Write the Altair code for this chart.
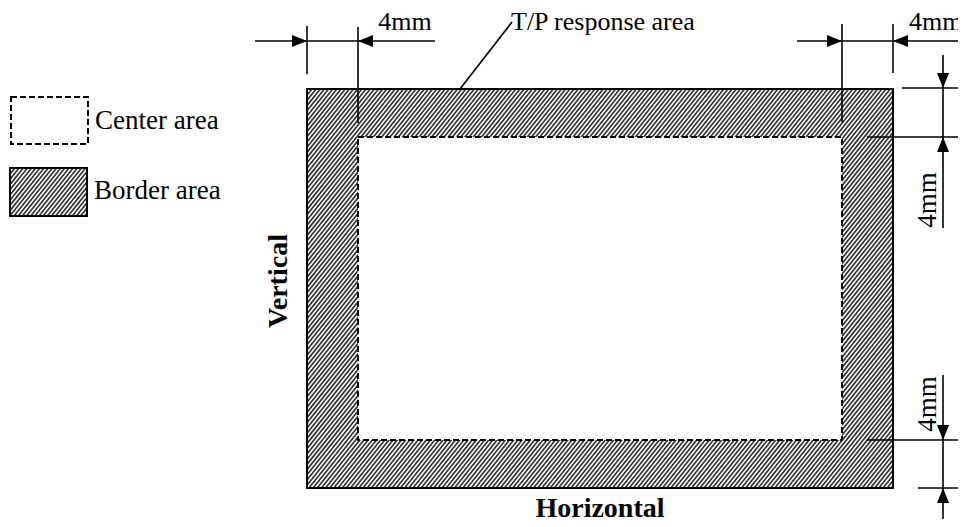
import altair as alt
import pandas as pd
import numpy as np

# ---- geometry of the diagram (image pixel coordinates) ----
rect_names = ["outer", "inner", "legend_center", "legend_border"]
rect_x1 = [307, 358, 11, 10]
rect_y1 = [89, 137, 97, 168]
rect_x2 = [893, 842, 88, 87]
rect_y2 = [488, 440, 144, 216]

# dimension / leader line segments
seg_x1 = [255, 307, 358, 797, 842, 893, 943, 902, 867, 943, 867, 918, 460]
seg_y1 = [41, 26, 27, 41, 24, 24, 55, 88, 137, 375, 440, 488, 89]
seg_x2 = [435, 307, 358, 966, 842, 893, 943, 966, 966, 943, 966, 966, 512]
seg_y2 = [41, 74, 123, 41, 122, 73, 228, 88, 137, 522, 440, 488, 22]

# arrow heads: tip position and direction (deg, clockwise from +x)
arr_x = [307, 358, 842, 893, 943, 943, 943, 943]
arr_y = [41, 41, 41, 41, 88, 137, 440, 488]
arr_dir = [0, 180, 0, 180, 90, 270, 90, 270]

# labels
lbl_top_text = ["T/P response area", "4mm"]
lbl_top_x = [511, 909]
lbl_top_y = [22, 22]
lbl_top_center_text = ["4mm"]
lbl_top_center_x = [405]
lbl_top_center_y = [22]
lbl_left_text = ["Center area", "Border area"]
lbl_left_x = [95, 94]
lbl_left_y = [121, 191]
lbl_mid_text = ["4mm", "4mm"]
lbl_mid_x = [928, 928]
lbl_mid_y = [200, 404]
lbl_mid_angle = [270, 270]
lbl_bold_text = ["Vertical", "Horizontal"]
lbl_bold_x = [287, 600]
lbl_bold_y = [281, 517]
lbl_bold_angle = [270, 0]

HATCH_STEP = 5.2
HATCH_K = 1.25


def hatch(x0, y0, x1, y1):
    rows = []
    cmin = y0 + HATCH_K * x0
    cmax = y1 + HATCH_K * x1
    for c in np.arange(cmin + 1, cmax, HATCH_STEP):
        xa = max(x0, (c - y1) / HATCH_K)
        xb = min(x1, (c - y0) / HATCH_K)
        if xb <= xa:
            continue
        rows.append(dict(x=xa, y=c - HATCH_K * xa, x2=xb, y2=c - HATCH_K * xb))
    return rows


rects = pd.DataFrame(dict(name=rect_names, x=rect_x1, y=rect_y1, x2=rect_x2, y2=rect_y2))
hatch_rows = []
for n, a, b, c, d in zip(rect_names, rect_x1, rect_y1, rect_x2, rect_y2):
    if n in ("outer", "legend_border"):
        hatch_rows += hatch(a, b, c, d)
hatch_df = pd.DataFrame(hatch_rows)
segs = pd.DataFrame(dict(x=seg_x1, y=seg_y1, x2=seg_x2, y2=seg_y2))
arrows = pd.DataFrame(dict(x=arr_x, y=arr_y, a=arr_dir))
t_top = pd.DataFrame(dict(t=lbl_top_text, x=lbl_top_x, y=lbl_top_y))
t_topc = pd.DataFrame(dict(t=lbl_top_center_text, x=lbl_top_center_x, y=lbl_top_center_y))
t_left = pd.DataFrame(dict(t=lbl_left_text, x=lbl_left_x, y=lbl_left_y))
t_mid = pd.DataFrame(dict(t=lbl_mid_text, x=lbl_mid_x, y=lbl_mid_y, a=lbl_mid_angle))
t_bold = pd.DataFrame(dict(t=lbl_bold_text, x=lbl_bold_x, y=lbl_bold_y, a=lbl_bold_angle))

X = alt.Scale(domain=[8, 958], nice=False, zero=False)
Y = alt.Scale(domain=[8, 519], nice=False, zero=False, reverse=True)


def xe(f="x"):
    return alt.X(f"{f}:Q", scale=X, axis=None)


def ye(f="y"):
    return alt.Y(f"{f}:Q", scale=Y, axis=None)


hatch_layer = alt.Chart(hatch_df).mark_rule(color="#333333", strokeWidth=1.7).encode(
    x=xe(), y=ye(), x2="x2:Q", y2="y2:Q")

dashed = alt.Chart(rects[rects.name.isin(["inner", "legend_center"])]).mark_rect(
    fill="white", stroke="black", strokeWidth=2, strokeDash=[6, 3]).encode(
    x=xe(), y=ye(), x2="x2:Q", y2="y2:Q")

solid = alt.Chart(rects[rects.name.isin(["outer", "legend_border"])]).mark_rect(
    fill="white", fillOpacity=0, stroke="black", strokeWidth=2).encode(
    x=xe(), y=ye(), x2="x2:Q", y2="y2:Q")

lines = alt.Chart(segs).mark_rule(color="black", strokeWidth=1.6).encode(
    x=xe(), y=ye(), x2="x2:Q", y2="y2:Q")

heads = alt.Chart(arrows).mark_point(
    shape="M0,0L-2,-0.8L-2,0.8Z", filled=True, color="black", opacity=1, size=225,
    strokeWidth=0).encode(x=xe(), y=ye(), angle=alt.Angle("a:Q", scale=None))

FONT = "Liberation Serif"
txt_top = alt.Chart(t_top).mark_text(
    align="left", baseline="middle", font=FONT, fontSize=26, color="black").encode(
    x=xe(), y=ye(), text="t:N")
txt_topc = alt.Chart(t_topc).mark_text(
    align="center", baseline="middle", font=FONT, fontSize=26, color="black").encode(
    x=xe(), y=ye(), text="t:N")
txt_left = alt.Chart(t_left).mark_text(
    align="left", baseline="middle", font=FONT, fontSize=27, color="black").encode(
    x=xe(), y=ye(), text="t:N")
txt_mid = alt.Chart(t_mid).mark_text(
    align="center", baseline="middle", font=FONT, fontSize=27, color="black").encode(
    x=xe(), y=ye(), text="t:N", angle=alt.Angle("a:Q", scale=None))
txt_bold = alt.Chart(t_bold).mark_text(
    align="center", baseline="alphabetic", font=FONT, fontSize=28, fontWeight="bold",
    color="black").encode(x=xe(), y=ye(), text="t:N", angle=alt.Angle("a:Q", scale=None))

chart = alt.layer(hatch_layer, dashed, solid, lines, heads,
                  txt_top, txt_topc, txt_left, txt_mid, txt_bold).properties(
    width=950, height=511, autosize=alt.AutoSizeParams(type="none"), padding=0
).configure_view(stroke=None)

chart.save("out.html", embed_options={"renderer": "svg", "actions": False})
